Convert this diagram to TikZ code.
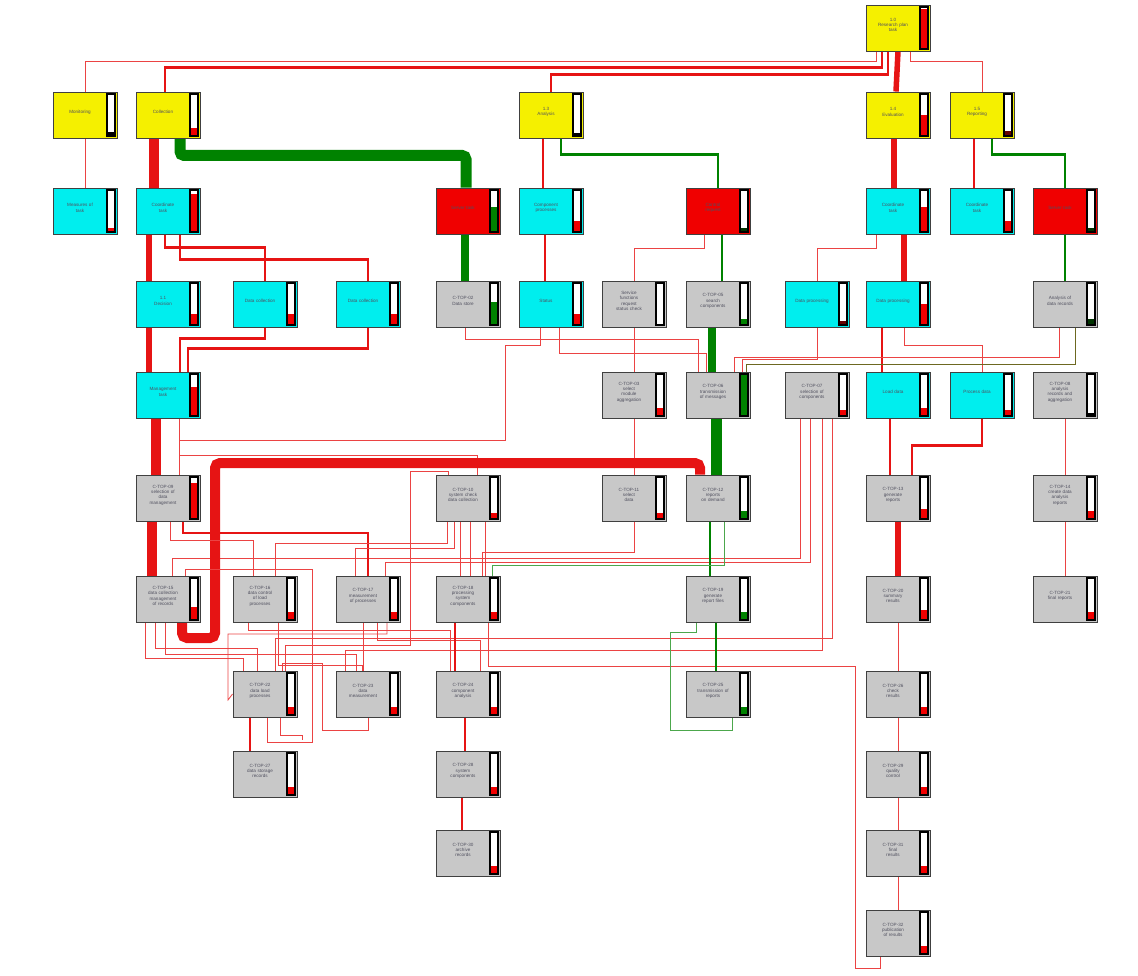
\documentclass[tikz,border=0pt]{standalone}
\usepackage{fontspec}
\setmainfont{Liberation Sans}
\usetikzlibrary{calc,backgrounds}
\definecolor{ye}{RGB}{245,240,0}
\definecolor{cy}{RGB}{0,238,238}
\definecolor{rd}{RGB}{240,0,0}
\definecolor{gy}{RGB}{200,200,200}
\definecolor{lr}{RGB}{230,20,20}
\definecolor{lg}{RGB}{0,130,0}
\definecolor{tx}{RGB}{80,80,95}
\tikzset{
  box/.style={rectangle, draw=black!75, line width=0.9pt, minimum width=64pt, minimum height=46pt, inner sep=0pt},
  lbl/.style={font=\fontsize{4.6}{5.4}\selectfont, text=tx, align=center, text width=50pt},
  rthin/.style={draw=lr!80, line width=0.8pt},
  rmed/.style={draw=lr, line width=2.4pt},
  rthk/.style={draw=lr, line width=5.5pt},
  rhvy/.style={draw=lr, line width=10pt},
  gthin/.style={draw=lg!70, line width=0.8pt},
  gmed/.style={draw=lg, line width=2.2pt},
  gthk/.style={draw=lg, line width=8pt},
  ghvy/.style={draw=lg, line width=11pt},
}
\newcommand{\bx}[7]{%
  \node[box,fill=#4] (#1) at (#2,#3) {};
  \node[lbl] (#1t) at (#2-5,#3-3) {#7};
  \fill[white] (#2+22,#3-21) rectangle (#2+30,#3+21);
  \fill[#6] (#2+22,#3+21-42*#5) rectangle (#2+30,#3+21);
  \draw[line width=1.1pt] (#2+22,#3-21) rectangle (#2+30,#3+21);
}
\begin{document}
\begin{tikzpicture}[x=1pt,y=-1pt]
\useasboundingbox (0,0) rectangle (1138,976);
% ---------------- nodes ----------------
\bx{T}{898}{28}{ye}{0.95}{rd}{1.0\\Research plan\\task}
\bx{a1}{85}{115}{ye}{0.1}{black}{Monitoring}
\bx{b1}{168}{115}{ye}{0.2}{rd}{Collection}
\bx{c1}{551}{115}{ye}{0.08}{black}{1.3\\Analysis}
\bx{d1}{898}{115}{ye}{0.5}{rd}{1.4\\Evaluation}
\bx{e1}{982}{115}{ye}{0.12}{black!60!red}{1.5\\Reporting}
\bx{a2}{85}{211}{cy}{0.1}{rd}{Measures of\\task}
\bx{b2}{168}{211}{cy}{0.9}{rd}{Coordinate\\task}
\bx{e2}{468}{211}{rd}{0.6}{lg}{Server task}
\bx{f2}{551}{211}{cy}{0.25}{rd}{Component\\processes}
\bx{h2}{718}{211}{rd}{0.1}{black!60!lg}{Control\\request}
\bx{j2}{898}{211}{cy}{0.6}{rd}{Coordinate\\task}
\bx{k2}{982}{211}{cy}{0.25}{rd}{Coordinate\\task}
\bx{l2}{1065}{211}{rd}{0.1}{black!60!lg}{Server task}
\bx{b3}{168}{304}{cy}{0.25}{rd}{1.1\\Decision}
\bx{c3}{265}{304}{cy}{0.25}{rd}{Data collection}
\bx{d3}{368}{304}{cy}{0.25}{rd}{Data collection}
\bx{e3}{468}{304}{gy}{0.55}{lg}{C-TOP-02\\Data store}
\bx{f3}{551}{304}{cy}{0.25}{rd}{Status}
\bx{g3}{634}{304}{gy}{0.0}{rd}{Service\\functions\\request\\status check}
\bx{h3}{718}{304}{gy}{0.15}{lg}{C-TOP-05\\search\\components}
\bx{i3}{817}{304}{cy}{0.1}{black!60!red}{Data processing}
\bx{j3}{898}{304}{cy}{0.5}{rd}{Data processing}
\bx{l3}{1065}{304}{gy}{0.15}{black!60!lg}{Analysis of\\data records}
\bx{b4}{168}{395}{cy}{0.7}{rd}{Management\\task}
\bx{g4}{634}{395}{gy}{0.2}{rd}{C-TOP-03\\select\\module\\aggregation}
\bx{h4}{718}{395}{gy}{1.0}{lg}{C-TOP-06\\transmission\\of messages}
\bx{i4}{817}{395}{gy}{0.15}{rd}{C-TOP-07\\selection of\\components}
\bx{j4}{898}{395}{cy}{0.2}{rd}{Load data}
\bx{k4}{982}{395}{cy}{0.15}{rd}{Process data}
\bx{l4}{1065}{395}{gy}{0.08}{black}{C-TOP-08\\analysis\\records and\\aggregation}
\bx{b5}{168}{498}{gy}{0.85}{rd}{C-TOP-09\\selection of\\data\\management}
\bx{e5}{468}{498}{gy}{0.15}{rd}{C-TOP-10\\system check\\data collection}
\bx{g5}{634}{498}{gy}{0.15}{rd}{C-TOP-11\\select\\data}
\bx{h5}{718}{498}{gy}{0.2}{lg}{C-TOP-12\\reports\\on demand}
\bx{j5}{898}{498}{gy}{0.25}{rd}{C-TOP-13\\generate\\reports}
\bx{l5}{1065}{498}{gy}{0.2}{rd}{C-TOP-14\\create data\\analysis\\reports}
\bx{b6}{168}{599}{gy}{0.3}{rd}{C-TOP-15\\data collection\\management\\of records}
\bx{c6}{265}{599}{gy}{0.2}{rd}{C-TOP-16\\data control\\of load\\processes}
\bx{d6}{368}{599}{gy}{0.2}{rd}{C-TOP-17\\measurement\\of processes}
\bx{e6}{468}{599}{gy}{0.2}{rd}{C-TOP-18\\processing\\system\\components}
\bx{h6}{718}{599}{gy}{0.2}{lg}{C-TOP-19\\generate\\report files}
\bx{j6}{898}{599}{gy}{0.25}{rd}{C-TOP-20\\summary\\results}
\bx{l6}{1065}{599}{gy}{0.2}{rd}{C-TOP-21\\final reports}
\bx{c7}{265}{694}{gy}{0.2}{rd}{C-TOP-22\\data load\\processes}
\bx{d7}{368}{694}{gy}{0.2}{rd}{C-TOP-23\\data\\measurement}
\bx{e7}{468}{694}{gy}{0.2}{rd}{C-TOP-24\\component\\analysis}
\bx{h7}{718}{694}{gy}{0.2}{lg}{C-TOP-25\\transmission of\\reports}
\bx{j7}{898}{694}{gy}{0.2}{rd}{C-TOP-26\\check\\results}
\bx{c8}{265}{774}{gy}{0.2}{rd}{C-TOP-27\\data storage\\records}
\bx{e8}{468}{774}{gy}{0.2}{rd}{C-TOP-28\\system\\components}
\bx{j8}{898}{774}{gy}{0.2}{rd}{C-TOP-29\\quality\\control}
\bx{e9}{468}{853}{gy}{0.2}{rd}{C-TOP-30\\archive\\records}
\bx{j9}{898}{853}{gy}{0.2}{rd}{C-TOP-31\\final\\results}
\bx{j10}{898}{933}{gy}{0.2}{rd}{C-TOP-32\\publication\\of results}
% ---------------- connectors ----------------
\begin{pgfonlayer}{background}
% top
\draw[rthin] ([xshift=-22pt]T.south) -- ++(0,10) -| (a1.north);
\draw[rmed] ([xshift=-16pt]T.south) -- ++(0,16) -| ([xshift=-3pt]b1.north);
\draw[rmed] ([xshift=-10pt]T.south) -- ++(0,23) -| (c1.north);
\draw[rthk] ([xshift=0pt]T.south) -- ([xshift=-2pt]d1.north);
\draw[rthin] ([xshift=12pt]T.south) -- ++(0,10) -| (e1.north);
% row1 -> row2
\draw[rthin] (a1.south) -- (a2.north);
\draw[rhvy] ([xshift=-14pt]b1.south) -- ([xshift=-14pt]b2.north);
\draw[ghvy, rounded corners=4pt] ([xshift=12pt]b1.south) -- ++(0,17) -| ([xshift=-2pt]e2.north);
\draw[rmed] ([xshift=-8pt]c1.south) -- ([xshift=-8pt]f2.north);
\draw[gmed] ([xshift=10pt]c1.south) -- ++(0,16) -| (h2.north);
\draw[rthk] ([xshift=-4pt]d1.south) -- ([xshift=-4pt]j2.north);
\draw[rmed] ([xshift=-8pt]e1.south) -- ([xshift=-8pt]k2.north);
\draw[gmed] ([xshift=10pt]e1.south) -- ++(0,16) -| (l2.north);
% row2 -> row3
\draw[rthk] ([xshift=-19pt]b2.south) -- ([xshift=-19pt]b3.north);
\draw[rmed] ([xshift=-3pt]b2.south) -- ++(0,13) -| (c3.north);
\draw[rmed] ([xshift=12pt]b2.south) -- ++(0,25) -| (d3.north);
\draw[gthk] ([xshift=-3pt]e2.south) -- ([xshift=-3pt]e3.north);
\draw[rmed] ([xshift=-6pt]f2.south) -- ([xshift=-6pt]f3.north);
\draw[rthin] ([xshift=-14pt]h2.south) -- ++(0,14) -| (g3.north);
\draw[gmed] ([xshift=4pt]h2.south) -- ([xshift=4pt]h3.north);
\draw[rthin] ([xshift=-22pt]j2.south) -- ++(0,14) -| (i3.north);
\draw[rthk] ([xshift=6pt]j2.south) -- ([xshift=6pt]j3.north);
\draw[gmed] (l2.south) -- (l3.north);
% row3 -> row4
\draw[rthk] ([xshift=-19pt]b3.south) -- ([xshift=-19pt]b4.north);
\draw[rmed] (c3.south) -- ++(0,11) -| ([xshift=12pt]b4.north);
\draw[rmed] (d3.south) -- ++(0,21) -| ([xshift=20pt]b4.north);
\draw[rthin] ([xshift=-3pt]e3.south) -- ++(0,12) -| ([xshift=-20pt]h4.north);
\draw[rthin] ([xshift=-11pt]f3.south) |- (505,345) -- (505,440) -| ([xshift=11pt]b5.north);
\draw[rthin] ([xshift=8pt]f3.south) -- ++(0,26) -| ([xshift=-12pt]h4.north);
\draw[rthin] (g3.south) -- (g4.north);
\draw[gthk] ([xshift=-6pt]h3.south) -- ([xshift=-6pt]h4.north);
\draw[rthin] (i3.south) -- ++(0,32) -| ([xshift=24pt]h4.north);
\draw[rmed] ([xshift=-16pt]j3.south) -- ([xshift=-16pt]j4.north);
\draw[rthin] ([xshift=6pt]j3.south) -- ++(0,18) -| (k4.north);
\draw[rthin] ([xshift=-6pt]l3.south) -- ++(0,30) -| ([xshift=16pt]h4.north);
\draw[draw=olive!70!black, line width=0.8pt] ([xshift=10pt]l3.south) -- ++(0,37) -| ([xshift=28pt]h4.north);
% row4 -> row5
\draw[rhvy] ([xshift=-12pt]b4.south) -- ([xshift=-12pt]b5.north);
\draw[rthin] ([xshift=11pt]b4.south) -- ([xshift=11pt]b5.north);
\draw[rthin] ([xshift=11pt]b4.south) |- (477,455) -- ([xshift=9pt]e5.north);
\draw[rthin] ([xshift=-20pt]e5.north) -- ++(0,-3) -| (410,645) -| ([xshift=20pt]c7.north);
\draw[rthin] (g4.south) -- (g5.north);
\draw[ghvy] ([xshift=-2pt]h4.south) -- ([xshift=-2pt]h5.north);
\draw[rthin] ([xshift=-17pt]i4.south) |- (172,558) -- ([xshift=4pt]b6.north);
\draw[rthin] ([xshift=-7pt]i4.south) |- (385,562) -- ([xshift=17pt]d6.north);
\draw[rthin] ([xshift=5pt]i4.south) |- (345,650) -- ([xshift=-23pt]d7.north);
\draw[rthin] ([xshift=15pt]i4.south) |- (275,638) -- ([xshift=10pt]c7.north);
\draw[rmed] ([xshift=-8pt]j4.south) -- ([xshift=-8pt]j5.north);
\draw[rmed] (k4.south) -- ++(0,27) -| ([xshift=14pt]j5.north);
\draw[rthin] (l4.south) -- (l5.north);
% big red loop
\draw[rhvy, rounded corners=5pt] ([xshift=-18pt]h5.north) |- (215,463) -- (215,638) -| ([xshift=14pt]b6.south);
% row5 -> row6
\draw[rhvy] ([xshift=-16pt]b5.south) -- ([xshift=-16pt]b6.north);
\draw[rthin] ([xshift=2pt]b5.south) |- (253,540) -- ([xshift=-12pt]c6.north);
\draw[rmed] ([xshift=15pt]b5.south) |- (368,533) -- (d6.north);
\draw[rthin] ([xshift=-21pt]e5.south) |- (275,543) -- ([xshift=10pt]c6.north);
\draw[rthin] ([xshift=-8pt]e5.south) -- ([xshift=-8pt]e6.north);
\draw[rthin] ([xshift=2pt]e5.south) -- ([xshift=2pt]e6.north);
\draw[rthin] ([xshift=17pt]e5.south) -- ([xshift=17pt]e6.north);
\draw[rthin] ([xshift=-14pt]e5.south) |- (355,548) -- ([xshift=-13pt]d6.north);
\draw[rthin] ([xshift=17pt]b6.north) |- (312,569) -- (312,742) -| ([xshift=2pt]c7.south);
\draw[rthin] (g5.south) |- (482,552) -- ([xshift=14pt]e6.north);
\draw[gmed] ([xshift=-8pt]h5.south) -- ([xshift=-8pt]h6.north);
\draw[gthin] ([xshift=6pt]h5.south) |- (492,565) -- ([xshift=24pt]e6.north);
\draw[rthk] (j5.south) -- (j6.north);
\draw[rthin] (l5.south) -- (l6.north);
% row6 -> row7
\draw[rthin] ([xshift=-23pt]b6.south) |- (243,658) -- ([xshift=-22pt]c7.north);
\draw[rthin] ([xshift=-13pt]b6.south) |- (257,648) -- ([xshift=-8pt]c7.north);
\draw[rthin] ([xshift=-3pt]b6.south) |- (356,654) -- ([xshift=-12pt]d7.north);
\draw[rthin] ([xshift=-17pt]c6.south) |- (450,630) -- ([xshift=-18pt]e7.north);
\draw[rthin] ([xshift=13pt]c6.south) |- (362,665) -- ([xshift=-6pt]d7.north);
\draw[rthin] ([xshift=-5pt]d6.south) -- ([xshift=-5pt]d7.north);
\draw[rthin] ([xshift=9pt]d6.south) |- (480,640) -- ([xshift=12pt]e7.north);
\draw[rthin] ([xshift=19pt]d6.south) |- (228,634) -- (228,700) -- (c7.west);
\draw[rmed] ([xshift=-13pt]e6.south) -- ([xshift=-13pt]e7.north);
\draw[rthin] ([xshift=20pt]e6.south) -- ++(0,44) -| (855,968) -| ([xshift=-18pt]j10.south);
\draw[gmed] ([xshift=-2pt]h6.south) -- ([xshift=-2pt]h7.north);
\draw[gthin] ([xshift=-22pt]h6.south) -- ++(0,10) -| (670,730) -| ([xshift=14pt]h7.south);
\draw[rthin] (j6.south) -- (j7.north);
% row7 -> row8
\draw[rmed] ([xshift=-15pt]c7.south) -- ([xshift=-15pt]c8.north);
\draw[rthin] (d7.south) |- (322,730) -- (322,663) -| ([xshift=17pt]c7.north);
\draw[rthin] ([xshift=15pt]c7.south) |- (302,735) -- (302,740);
\draw[rmed] ([xshift=-3pt]e7.south) -- ([xshift=-3pt]e8.north);
\draw[rthin] (j7.south) -- (j8.north);
\draw[rmed] ([xshift=-6pt]e8.south) -- ([xshift=-6pt]e9.north);
\draw[rthin] (j8.south) -- (j9.north);
\draw[rthin] (j9.south) -- (j10.north);
\end{pgfonlayer}
\end{tikzpicture}
\end{document}
